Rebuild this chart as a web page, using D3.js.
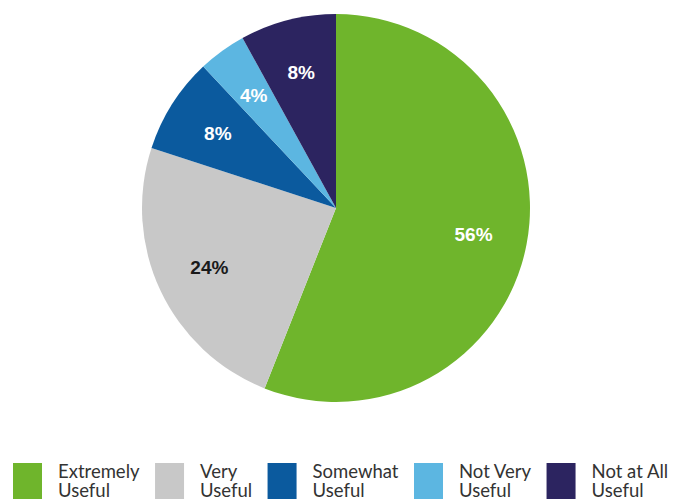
<!DOCTYPE html>
<html>
<head>
<meta charset="utf-8">
<script src="https://cdn.jsdelivr.net/npm/d3@7"></script>
<style>
  html, body { margin: 0; padding: 0; background: #ffffff; }
  svg { display: block; }
</style>
</head>
<body>
<svg id="chart" width="675" height="500"></svg>
<script>
// Usefulness ratings, share of respondents (%)
const categories = ["Extremely Useful", "Very Useful", "Somewhat Useful", "Not Very Useful", "Not at All Useful"];
const legendLines = [["Extremely", "Useful"], ["Very", "Useful"], ["Somewhat", "Useful"], ["Not Very", "Useful"], ["Not at All", "Useful"]];
const values = [56, 24, 8, 4, 8];
const colors = ["#6fb52c", "#c8c8c8", "#0b5a9e", "#5cb6e1", "#2c2460"];
const labelColors = ["#ffffff", "#1a1a1a", "#ffffff", "#ffffff", "#ffffff"];

const svg = d3.select("#chart");
const cx = 336, cy = 208, radius = 194;

const color = d3.scaleOrdinal().domain(categories).range(colors);
const labelColor = d3.scaleOrdinal().domain(categories).range(labelColors);

const rows = categories.map((c, i) => ({ category: c, value: values[i], lines: legendLines[i] }));

const pie = d3.pie().value(d => d.value).sort(null);
const arcs = pie(rows);

const arc = d3.arc().innerRadius(0).outerRadius(radius);
const labelArc = d3.arc().innerRadius(140).outerRadius(140);

const g = svg.append("g").attr("transform", `translate(${cx},${cy})`);

g.selectAll("path.slice")
  .data(arcs)
  .join("path")
  .attr("class", "slice")
  .attr("d", arc)
  .attr("fill", d => color(d.data.category));

g.selectAll("text.pct")
  .data(arcs)
  .join("text")
  .attr("class", "pct")
  .attr("transform", d => `translate(${labelArc.centroid(d)})`)
  .attr("text-anchor", "middle")
  .attr("dy", "0.36em")
  .attr("font-family", "'Liberation Sans', Arial, sans-serif")
  .attr("font-weight", "bold")
  .attr("font-size", 19)
  .attr("fill", d => labelColor(d.data.category))
  .text(d => d.data.value + "%");

// Legend: swatch + two-line label, flowed left to right
const legend = svg.append("g").attr("transform", "translate(13,463)");
const swW = 29, swH = 36, swGap = 16, itemGap = 15.5;
let x = 0;
rows.forEach(r => {
  const item = legend.append("g").attr("transform", `translate(${x},0)`);
  item.append("rect")
    .attr("width", swW).attr("height", swH)
    .attr("fill", color(r.category));
  const t = item.append("text")
    .attr("font-family", "Lato, 'Open Sans', sans-serif")
    .attr("font-size", 18.5)
    .attr("fill", "#333333");
  r.lines.forEach((ln, k) => {
    t.append("tspan").attr("x", swW + swGap).attr("y", 15 + k * 18.7).text(ln);
  });
  const w = t.node().getComputedTextLength ? d3.max(t.selectAll("tspan").nodes(), n => n.getComputedTextLength()) : 60;
  x += swW + swGap + w + itemGap;
});
</script>
</body>
</html>
